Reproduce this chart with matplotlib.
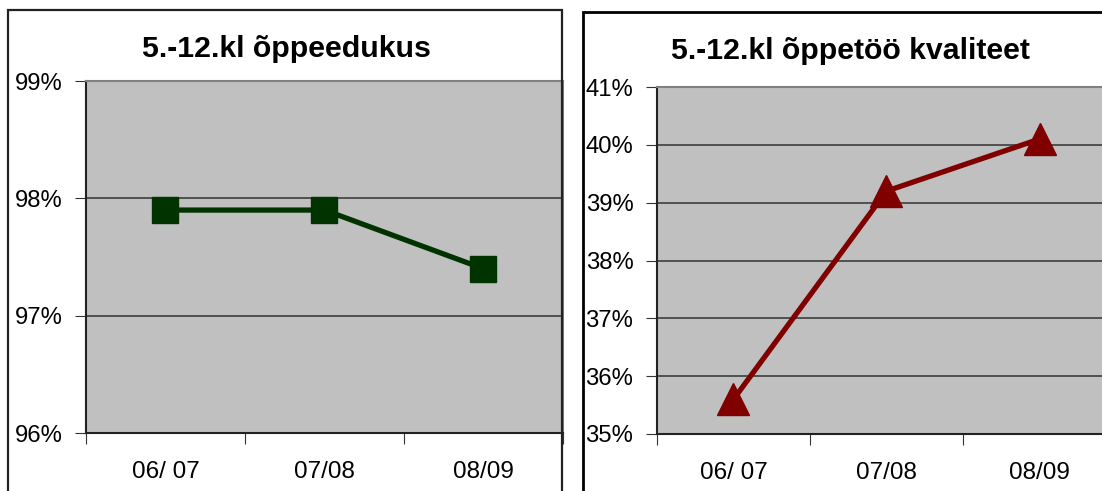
import matplotlib
matplotlib.use("Agg")
import matplotlib.pyplot as plt
from matplotlib.patches import Rectangle

categories = ["06/ 07", "07/08", "08/09"]
left_title = "5.-12.kl õppeedukus"
left_values = [97.9, 97.9, 97.4]
left_yticks = [96, 97, 98, 99]
right_title = "5.-12.kl õppetöö kvaliteet"
right_values = [35.6, 39.2, 40.1]
right_yticks = [35, 36, 37, 38, 39, 40, 41]

plt.rcParams['font.family'] = ['Liberation Sans', 'DejaVu Sans']

W, H = 1102, 491
fig = plt.figure(figsize=(W / 100, H / 100), dpi=100)

def fx(px):
    return px / W

def fy(py):
    return 1 - py / H

# panel borders
fig.patches.append(Rectangle((fx(8), fy(600)), fx(562) - fx(8), fy(10) - fy(600),
                             transform=fig.transFigure, fill=False, edgecolor='#222222',
                             linewidth=1.6, clip_on=False))
fig.patches.append(Rectangle((fx(583), fy(600)), fx(1300) - fx(583), fy(12) - fy(600),
                             transform=fig.transFigure, fill=False, edgecolor='black',
                             linewidth=2.0, clip_on=False))

def make_axes(box, values, yticks, color, marker, msize, title, title_xy):
    x0, y0, x1, y1 = box
    ax = fig.add_axes([fx(x0), fy(y1), fx(x1) - fx(x0), fy(y0) - fy(y1)])
    ax.set_facecolor('#C0C0C0')
    xs = list(range(len(categories)))
    ax.plot(xs, values, color=color, linewidth=3.8, marker=marker, markersize=msize,
            markerfacecolor=color, markeredgecolor=color, zorder=5, clip_on=False)
    ax.set_xlim(-0.5, len(categories) - 0.5)
    ax.set_ylim(yticks[0], yticks[-1])
    ax.set_yticks(yticks)
    ax.set_yticklabels([f"{t}%" for t in yticks], fontsize=17.2)
    for t in yticks[1:-1]:
        ax.axhline(t, color='#505050', linewidth=1.4, zorder=1)
    ax.set_xticks([i - 0.5 for i in range(len(categories) + 1)])
    ax.set_xticklabels([])
    ax.set_xticks(xs, minor=True)
    ax.set_xticklabels(categories, minor=True, fontsize=17.5)
    ax.tick_params(axis='x', which='minor', length=0, pad=20)
    ax.tick_params(axis='x', which='major', length=8, direction='out', color='#333333')
    ax.tick_params(axis='y', length=8, direction='out', pad=9, color='#333333')
    ax.spines['left'].set_color('#222222')
    ax.spines['bottom'].set_color('#222222')
    ax.spines['left'].set_linewidth(1.5)
    ax.spines['bottom'].set_linewidth(1.5)
    ax.spines['top'].set_color('#808080')
    ax.spines['right'].set_color('#808080')
    ax.spines['top'].set_linewidth(1.5)
    ax.spines['right'].set_linewidth(1.5)
    fig.text(fx(title_xy[0]), fy(title_xy[1]), title, fontsize=21.8, fontweight='bold',
             ha='center', va='center')
    return ax

make_axes((86, 81, 563, 433), left_values, left_yticks, '#003300', 's', 18.5,
          left_title, (286, 49))
make_axes((657, 87, 1116, 434), right_values, right_yticks, '#800000', '^', 23,
          right_title, (850, 51))

fig.savefig("out.png", dpi=100)
